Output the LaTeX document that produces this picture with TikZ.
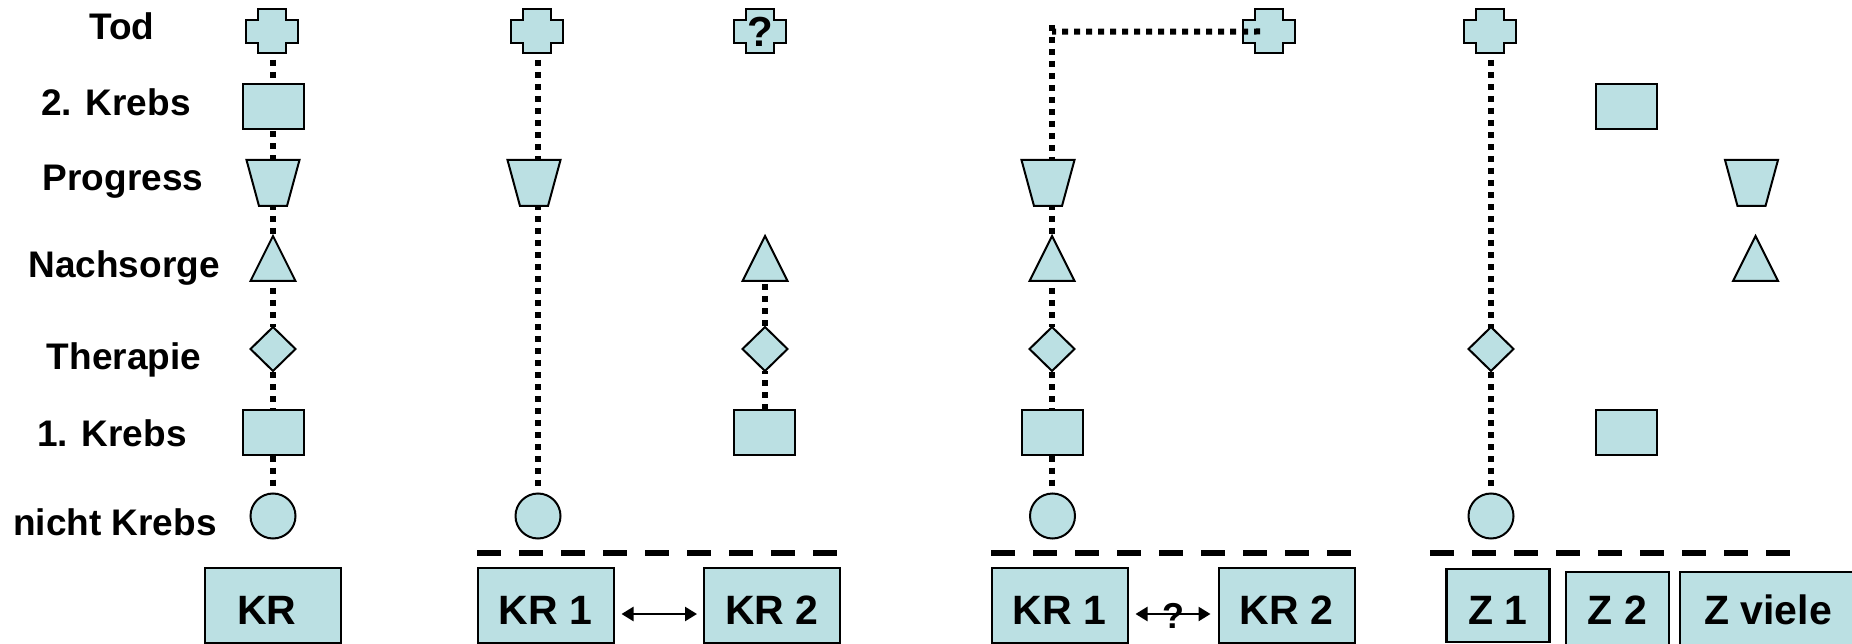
\documentclass[tikz,border=0pt]{standalone}
\usepackage{fontspec}
\setmainfont{Liberation Sans}
\usetikzlibrary{calc,backgrounds,arrows.meta,shapes.geometric}
\definecolor{boxfill}{HTML}{BBE0E3}
\tikzset{
  shp/.style={draw=black,fill=boxfill,line width=2pt,line join=miter},
  anchorbox/.style={inner sep=0pt,outer sep=0pt},
  rectshape/.style={shp,anchorbox,minimum width=61pt,minimum height=45pt},
  circshape/.style={shp,anchorbox,ellipse,minimum width=45pt,minimum height=45pt},
  dots/.style={line width=6pt,dash pattern=on 6pt off 6pt},
  rule/.style={line width=6pt,dash pattern=on 24pt off 18pt},
  rowlabel/.style={anchor=base,inner sep=0pt,font=\fontsize{37}{40}\selectfont\bfseries},
  studybox/.style={shp,anchorbox,font=\fontsize{41}{44}\selectfont\bfseries,text height=37pt,text depth=0pt},
  twoway/.style={line width=2.5pt,{Triangle[length=12pt,width=14pt]}-{Triangle[length=12pt,width=14pt]}}
}
% optional text, name, x centre, y centre
\newcommand\plusshape[4][]{%
  \begin{scope}[shift={(#3,#4)}]\draw[shp] (-14,-22) -- (14,-22) -- (14,-11.5) -- (26,-11.5) -- (26,11.5) -- (14,11.5) -- (14,22) -- (-14,22) -- (-14,11.5) -- (-26,11.5) -- (-26,-11.5) -- (-14,-11.5) -- cycle;\end{scope}
  \node[anchorbox,minimum width=52pt,minimum height=45pt,font=\fontsize{42}{44}\selectfont\bfseries] (#2) at (#3,#4) {#1};}
\newcommand\trapshape[3]{\node[anchorbox,minimum width=53pt,minimum height=46pt] (#1) at (#2,#3) {};
  \begin{scope}[shift={(#2,#3)}]\draw[shp] (-26.5,-23) -- (26.5,-23) -- (14,23) -- (-14,23) -- cycle;\end{scope}}
\newcommand\trishape[3]{\node[anchorbox,minimum width=45pt,minimum height=45pt] (#1) at (#2,#3) {};
  \begin{scope}[shift={(#2,#3)}]\draw[shp] (0,-22.5) -- (22.5,22.5) -- (-22.5,22.5) -- cycle;\end{scope}}
\newcommand\diashape[3]{\node[anchorbox,minimum width=45pt,minimum height=44pt] (#1) at (#2,#3) {};
  \begin{scope}[shift={(#2,#3)}]\draw[shp] (0,-22) -- (22.5,0) -- (0,22) -- (-22.5,0) -- cycle;\end{scope}}
\begin{document}
\begin{tikzpicture}[x=1pt,y=-1pt]
\path[use as bounding box] (0,0) rectangle (1852,644);
% row labels
\node[rowlabel] (lTod) at (122,40) {Tod};
\node[rowlabel] (lKtwo) at (116,116) {2. Krebs};
\node[rowlabel] (lProg) at (123,191) {Progress};
\node[rowlabel] (lNach) at (124,278) {Nachsorge};
\node[rowlabel] (lTher) at (124,369) {Therapie};
\node[rowlabel] (lKone) at (112,446) {1. Krebs};
\node[rowlabel] (lNicht) at (115,535) {nicht Krebs};
% column 1
\plusshape{aP}{272}{31.5}
\node[rectshape] (aR) at (273,107) {};
\trapshape{aT}{273}{183}
\trishape{aN}{273}{258.5}
\diashape{aD}{273}{349}
\node[rectshape] (aK) at (273,432) {};
\node[circshape] (aC) at (273,516) {};
\begin{scope}[on background layer]
\draw[dots,dash phase=6pt] (aP.south -| aR.north) -- (aR.north);
\draw[dots,dash phase=10pt] (aR.south) -- (aT.north);
\draw[dots,dash phase=2pt] (aT.south) -- (aN.north);
\draw[dots,dash phase=5pt] (aN.south) -- (aD.north);
\draw[dots,dash phase=11pt] (aD.south) -- (aK.north);
\draw[dots,dash phase=11pt] (aK.south) -- ([yshift=3pt]aC.north);
\end{scope}
% column 2
\plusshape{bP}{536.5}{31.5}
\trapshape{bT}{534}{183}
\node[circshape] (bC) at (538,516) {};
\plusshape[?]{cP}{760}{31.5}
\trishape{cN}{765}{258.5}
\diashape{cD}{765}{349}
\node[rectshape] (cK) at (764.5,432) {};
\begin{scope}[on background layer]
\draw[dots,dash phase=6pt] (bP.south -| bC.north) -- ([yshift=3pt]bC.north);
\draw[dots] ($(cN.south)+(0,3)$) -- (cD.north);
\draw[dots,dash phase=3pt] (cD.south) -- (cD.south |- cK.north);
\end{scope}
% column 3
\plusshape{dP}{1269}{31.5}
\trapshape{dT}{1048}{183}
\trishape{dN}{1052}{258.5}
\diashape{dD}{1052}{349}
\node[rectshape] (dK) at (1052,432) {};
\node[circshape] (dC) at (1052.5,516) {};
\coordinate (dCorner) at (1052,31.7);
\coordinate (dTop) at (1052,25);
\draw[dots] ([xshift=-9pt]dP.center) -- (dCorner);
\begin{scope}[on background layer]
\draw[dots] (dTop) -- (dT.north -| dTop);
\draw[dots,dash phase=2pt] (dT.south -| dN.north) -- (dN.north);
\draw[dots,dash phase=5pt] (dN.south) -- (dD.north);
\draw[dots,dash phase=11pt] (dD.south) -- (dK.north);
\draw[dots,dash phase=11pt] (dK.south) -- ([yshift=3pt]dK.south |- dC.north);
\end{scope}
% column 4
\plusshape{eP}{1490}{31.5}
\node[rectshape] (eR) at (1626,107) {};
\trapshape{eT}{1751.5}{183}
\trishape{eN}{1755.5}{258.5}
\diashape{eD}{1491}{349}
\node[rectshape] (eK) at (1626,432) {};
\node[circshape] (eC) at (1491,516) {};
\begin{scope}[on background layer]
\draw[dots,dash phase=6pt] (eP.south -| eC.north) -- ([yshift=3pt]eC.north);
\end{scope}
% dashed rules
\coordinate (r1a) at (477,553); \coordinate (r1b) at (838,553);
\coordinate (r2a) at (991,553); \coordinate (r2b) at (1351,553);
\coordinate (r3a) at (1430,553); \coordinate (r3b) at (1790,553);
\draw[rule] (r1a) -- (r1b);
\draw[rule] (r2a) -- (r2b);
\draw[rule] (r3a) -- (r3b);
% study boxes
\node[studybox,minimum width=136pt,minimum height=75pt] (sKR) at (273,605.5) {\kern-12pt KR};
\node[studybox,minimum width=136pt,minimum height=75pt] (sAone) at (545.5,605.5) {KR 1};
\node[studybox,minimum width=136pt,minimum height=75pt] (sAtwo) at (772,605.5) {KR 2};
\node[studybox,minimum width=136pt,minimum height=75pt] (sBone) at (1059.5,605.5) {KR 1};
\node[studybox,minimum width=136pt,minimum height=75pt] (sBtwo) at (1286.5,605.5) {KR 2};
\node[studybox,line width=2.5pt,minimum width=103pt,minimum height=73pt] (zOne) at (1498,605.5) {Z 1};
\node[studybox,text height=28pt,minimum width=103pt,minimum height=76pt] (zTwo) at (1617.5,610) {Z 2};
\node[studybox,text height=28pt,minimum width=176pt,minimum height=76pt] (zMany) at (1768,610) {Z viele};
% arrows
\draw[twoway] ($(sAone.east)+(8,8.5)$) -- ($(sAtwo.west)+(-7,8.5)$);
\draw[twoway] ($(sBone.east)+(8,8.5)$) -- ($(sBtwo.west)+(-8,8.5)$);
\node[anchor=base,inner sep=0pt,font=\fontsize{36}{40}\selectfont\bfseries] (qMark) at (1173,628) {?};
\end{tikzpicture}
\end{document}
